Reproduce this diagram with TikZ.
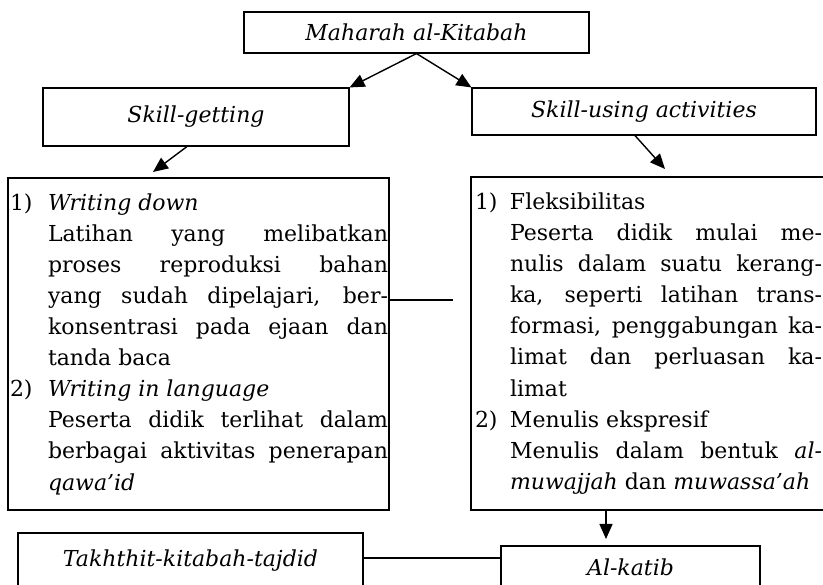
\documentclass[tikz,border=0pt]{standalone}
\usepackage{fontspec}
\setmainfont{DejaVu Serif}
\usetikzlibrary{arrows.meta}
\newcommand{\itemno}[2]{\noindent\llap{\makebox[#1][l]{#2}}}

\begin{document}
\begin{tikzpicture}[x=1pt,y=-1pt,
  titlebox/.style={draw, line width=1.1pt, inner sep=0pt,
    font=\fontsize{22pt}{31.1pt}\selectfont},
  listbox/.style={titlebox, text width=#1, align=justify},
  arr/.style={line width=1.4pt, -{Triangle[length=15pt,width=13pt]}}]
  \useasboundingbox (0,0) rectangle (823,585);
  \clip (0,0) rectangle (823,585);

  \node[titlebox, minimum width=345, minimum height=41] (maharah) at (416.5,32.5) {\textit{Maharah al-Kitabah}};
  \node[titlebox, minimum width=306, minimum height=58] (sget) at (196,117) {\textit{Skill-getting}};
  \node[titlebox, minimum width=344, minimum height=47] (suse) at (644,111.5) {\textit{Skill-using activities}};

  \node[listbox=381pt, minimum height=332] (wdown) at (198.5,344) {%
    \tolerance=10000\relax \hyphenpenalty=10000\relax \hbadness=10000\relax
    \leftskip=40pt\relax \rightskip=1pt\relax
    \itemno{38pt}{1)}\textit{Writing down}\par
    \noindent Latihan yang melibatkan\linebreak proses reproduksi bahan\linebreak yang sudah dipelajari, ber-\linebreak konsentrasi pada ejaan dan\linebreak tanda baca\par
    \itemno{38pt}{2)}\textit{Writing in language}\par
    \noindent Peserta didik terlihat dalam\linebreak berbagai aktivitas penerapan\linebreak \textit{qawa’id}\par};
  \node[listbox=356pt, minimum height=333] (fleks) at (649,343.5) {%
    \tolerance=10000\relax \hyphenpenalty=10000\relax \hbadness=10000\relax
    \leftskip=39pt\relax \rightskip=5pt\relax
    \itemno{35pt}{1)}Fleksibilitas\par
    \noindent Peserta didik mulai me-\linebreak nulis dalam suatu kerang-\linebreak ka, seperti latihan trans-\linebreak formasi, penggabungan ka-\linebreak limat dan perluasan ka-\linebreak limat\par
    \itemno{35pt}{2)}Menulis ekspresif\par
    \noindent Menulis dalam bentuk \textit{al-}\linebreak \textit{muwajjah} dan \textit{muwassa’ah}\par};

  \node[titlebox, minimum width=345, minimum height=56] (takhthit) at (190.5,561) {\textit{Takhthit-kitabah-tajdid}};
  \node[titlebox, minimum width=259, minimum height=42] (katib) at (630.5,567) {\textit{Al-katib}};

  \coordinate (sgetend) at (153,172);
  \coordinate (suseend) at (665,169);
  \coordinate (katibin) at (606,539);
  \coordinate (linkend) at (453,300);

  \draw[arr] (maharah.south) -- (sget.north east);
  \draw[arr] (maharah.south) -- (suse.north west);
  \draw[arr] ([xshift=-9pt]sget.south) -- (sgetend);
  \draw[arr] ([xshift=-9pt]suse.south) -- (suseend);
  \draw[arr] (fleks.south -| katibin) -- (katibin);
  \draw[line width=1.1pt] (wdown.east |- linkend) -- (linkend);
  \draw[line width=1.1pt] ([yshift=3pt]takhthit.east) -- ([yshift=3pt]takhthit.east -| katib.west);
\end{tikzpicture}
\end{document}
